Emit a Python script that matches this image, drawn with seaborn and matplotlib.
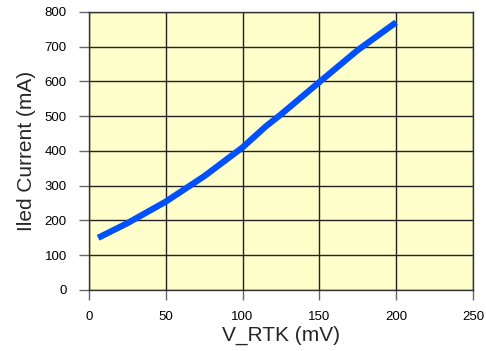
import matplotlib
matplotlib.use("Agg")
import matplotlib.pyplot as plt
import seaborn as sns
import pandas as pd

v_rtk = [6, 25, 50, 75, 100, 115, 125, 150, 175, 200]
iled = [150, 192, 254, 327, 410, 470, 505, 598, 690, 770]
x_ticks = [0, 50, 100, 150, 200, 250]
y_ticks = [0, 100, 200, 300, 400, 500, 600, 700, 800]

sns.set_theme(style="white")
plt.rcParams['font.family'] = ['Liberation Sans', 'DejaVu Sans']
plt.rcParams['xtick.bottom'] = True
plt.rcParams['ytick.left'] = True

df = pd.DataFrame({"x": v_rtk, "y": iled})

fig = plt.figure(figsize=(4.86, 3.51), dpi=100)
ax = fig.add_axes([0.183, 0.174, 0.790, 0.792])
ax.set_facecolor('#FFFFCC')
sns.lineplot(data=df, x="x", y="y", ax=ax, color='#0050FF', linewidth=4.5,
             solid_capstyle='butt')
ax.set_xlim(0, 250)
ax.set_ylim(0, 800)
ax.set_xticks(x_ticks)
ax.set_yticks(y_ticks)
ax.grid(True, color='#222222', linewidth=1)
ax.set_axisbelow(True)
for s in ax.spines.values():
    s.set_color('#333333')
    s.set_linewidth(1)
ax.tick_params(axis='both', direction='out', length=7, width=1, color='#666666',
               labelsize=9.5, labelcolor='black', bottom=True, left=True)
ax.tick_params(axis='y', pad=9)
ax.tick_params(axis='x', pad=8)
ax.set_xlabel("V_RTK (mV)", fontsize=15, labelpad=2)
ax.set_ylabel("Iled Current (mA)", fontsize=15, labelpad=6)
fig.savefig("out.png", dpi=100)
